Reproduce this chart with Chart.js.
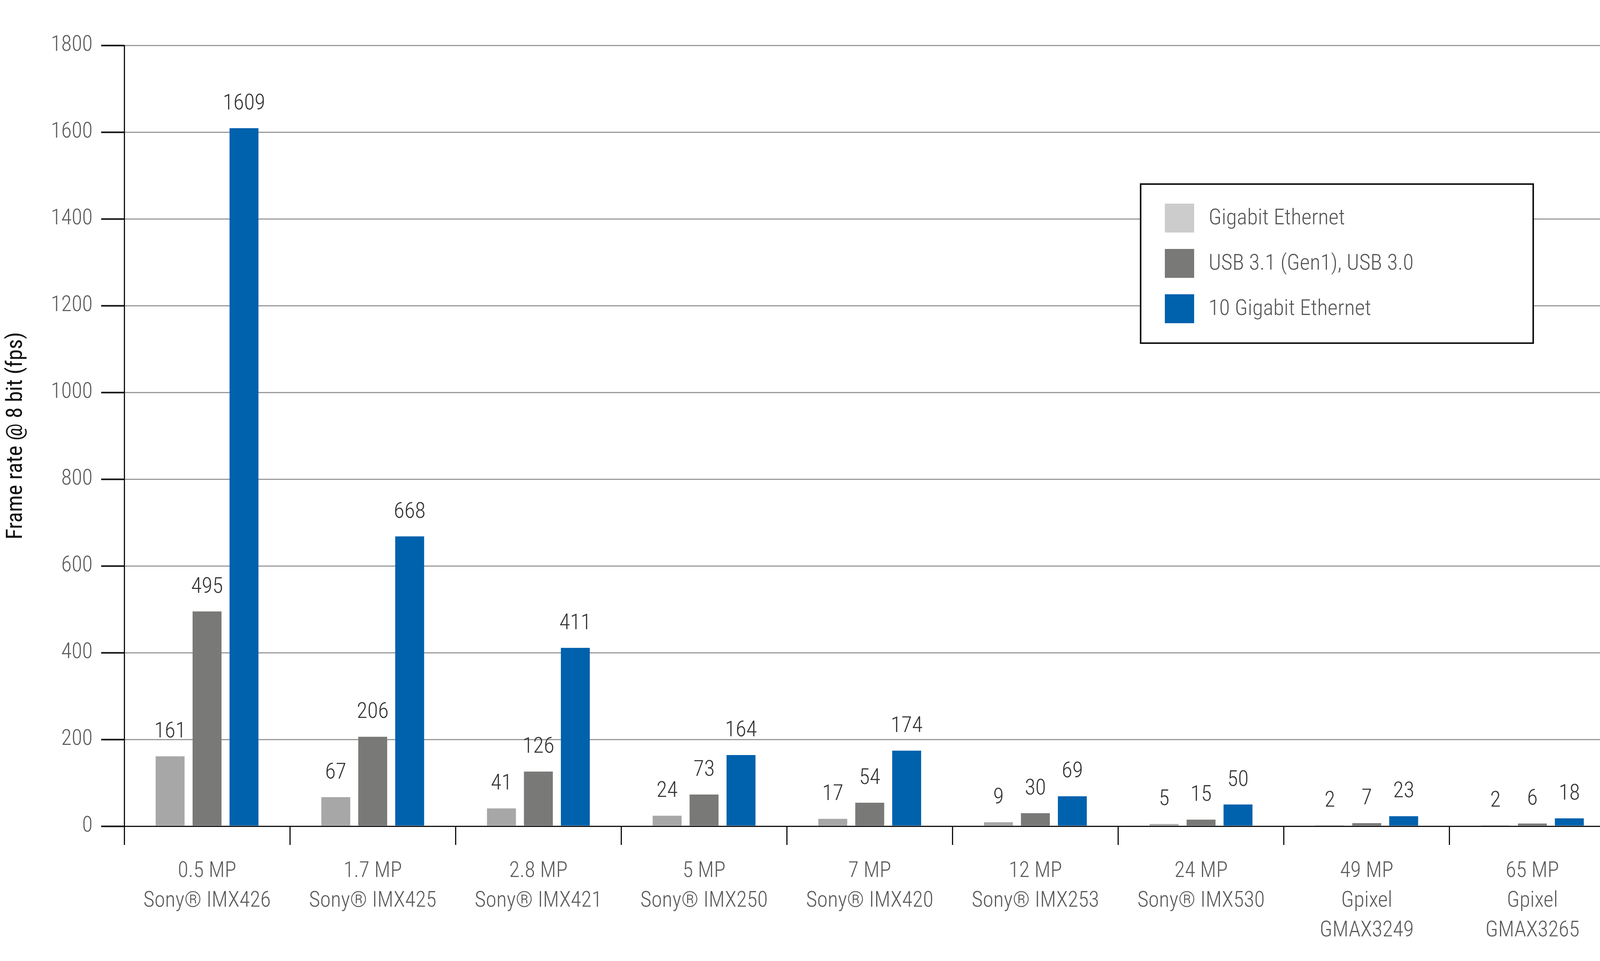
<!DOCTYPE html>
<html>
<head>
<meta charset="utf-8">
<script src="https://cdn.jsdelivr.net/npm/chart.js@4.4.1/dist/chart.umd.min.js"></script>
<style>
  html, body { margin: 0; padding: 0; background: #fff; }
  canvas { display: block; }
</style>
</head>
<body>
<canvas id="chart" width="4135" height="2459" style="width:4135px;height:2459px"></canvas>
<script>
// frame rate per sensor and interface
const resolutions = ['0.5 MP', '1.7 MP', '2.8 MP', '5 MP', '7 MP', '12 MP', '24 MP', '49 MP', '65 MP'];
const sensors = [
	['Sony® IMX426'], ['Sony® IMX425'], ['Sony® IMX421'], ['Sony® IMX250'], ['Sony® IMX420'],
	['Sony® IMX253'], ['Sony® IMX530'], ['Gpixel', 'GMAX3249'], ['Gpixel', 'GMAX3265']
];
const seriesNames = ['Gigabit Ethernet', 'USB 3.1 (Gen1), USB 3.0', '10 Gigabit Ethernet'];
const gigE = [161, 67, 41, 24, 17, 9, 5, 2, 2];
const usb3 = [495, 206, 126, 73, 54, 30, 15, 7, 6];
const tenGigE = [1609, 668, 411, 164, 174, 69, 50, 23, 18];
const yMin = 0;
const yMax = 1800;
const yStep = 200;

// Roboto narrowed via font-stretch, close to the condensed face of the original
const FONT = "Roboto, 'Open Sans', sans-serif";
const LIGHT = '300 semi-condensed';
const REGULAR = '400 semi-condensed';
const barColors = ['#a6a7a6', '#797978', '#0061ad'];
const legendColors = ['#cbcccb', '#797978', '#0061ad'];

const labels = resolutions.map((r, i) => [r].concat(sensors[i]));

const valueLabels = {
	id: 'valueLabels',
	afterDatasetsDraw(chart) {
		const ctx = chart.ctx;
		ctx.save();
		ctx.font = LIGHT + ' 56px ' + FONT;
		ctx.fillStyle = '#333333';
		ctx.textAlign = 'center';
		ctx.textBaseline = 'alphabetic';
		chart.data.datasets.forEach((ds, i) => {
			chart.getDatasetMeta(i).data.forEach((bar, j) => {
				ctx.fillText(String(ds.data[j]), bar.x, bar.y - 48);
			});
		});
		ctx.restore();
	}
};

// legend box drawn inside the plot, upper right
const boxLegend = {
	id: 'boxLegend',
	afterDraw(chart) {
		const ctx = chart.ctx;
		const area = chart.chartArea;
		const x = area.left + 2602;
		const y = area.top + 355;
		const w = 1005;
		const h = 407;
		ctx.save();
		ctx.fillStyle = '#ffffff';
		ctx.fillRect(x, y, w, h);
		ctx.lineWidth = 4;
		ctx.strokeStyle = '#111111';
		ctx.strokeRect(x, y, w, h);
		ctx.font = LIGHT + ' 56px ' + FONT;
		ctx.textAlign = 'left';
		ctx.textBaseline = 'middle';
		chart.data.datasets.forEach((ds, i) => {
			const cy = y + 87 + i * 116;
			ctx.fillStyle = legendColors[i];
			ctx.fillRect(x + 62, cy - 37, 75, 74);
			ctx.fillStyle = '#555555';
			ctx.fillText(ds.label, x + 174, cy + 2);
		});
		ctx.restore();
	}
};

const tickFont = {family: FONT, size: 55, weight: LIGHT, lineHeight: 1.385};

new Chart(document.getElementById('chart'), {
	type: 'bar',
	data: {
		labels: labels,
		datasets: [
			{label: seriesNames[0], data: gigE, backgroundColor: barColors[0]},
			{label: seriesNames[1], data: usb3, backgroundColor: barColors[1]},
			{label: seriesNames[2], data: tenGigE, backgroundColor: barColors[2]},
		]
	},
	options: {
		responsive: false,
		animation: false,
		devicePixelRatio: 1,
		layout: {padding: {top: 116, right: 0, bottom: 0, left: 0}},
		datasets: {bar: {categoryPercentage: 0.669, barPercentage: 0.783}},
		plugins: {
			legend: {display: false},
			tooltip: {enabled: false}
		},
		scales: {
			x: {
				grid: {offset: true, drawOnChartArea: false, drawTicks: true, tickLength: 48, tickColor: '#111111', tickWidth: 3},
				border: {color: '#111111', width: 3},
				ticks: {padding: 30, color: '#5a5a5a', font: tickFont, maxRotation: 0, autoSkip: false},
				afterFit: (s) => { s.height = 345; }
			},
			y: {
				min: yMin,
				max: yMax,
				ticks: {stepSize: yStep, padding: 22, color: '#5a5a5a', font: tickFont, callback: (v) => String(v)},
				grid: {
					color: (c) => (c.tick && c.tick.value === 0) ? 'rgba(0,0,0,0)' : '#9a9a9a',
					lineWidth: 3,
					tickColor: '#111111',
					tickLength: 59,
					tickWidth: 4
				},
				border: {color: '#111111', width: 3},
				title: {
					display: true,
					text: 'Frame rate @ 8 bit (fps)',
					color: '#111111',
					font: {family: FONT, size: 57, weight: REGULAR},
					padding: {top: 8, bottom: 0}
				},
				afterFit: (s) => { s.width = 318; }
			}
		}
	},
	plugins: [valueLabels, boxLegend]
});
</script>
</body>
</html>
